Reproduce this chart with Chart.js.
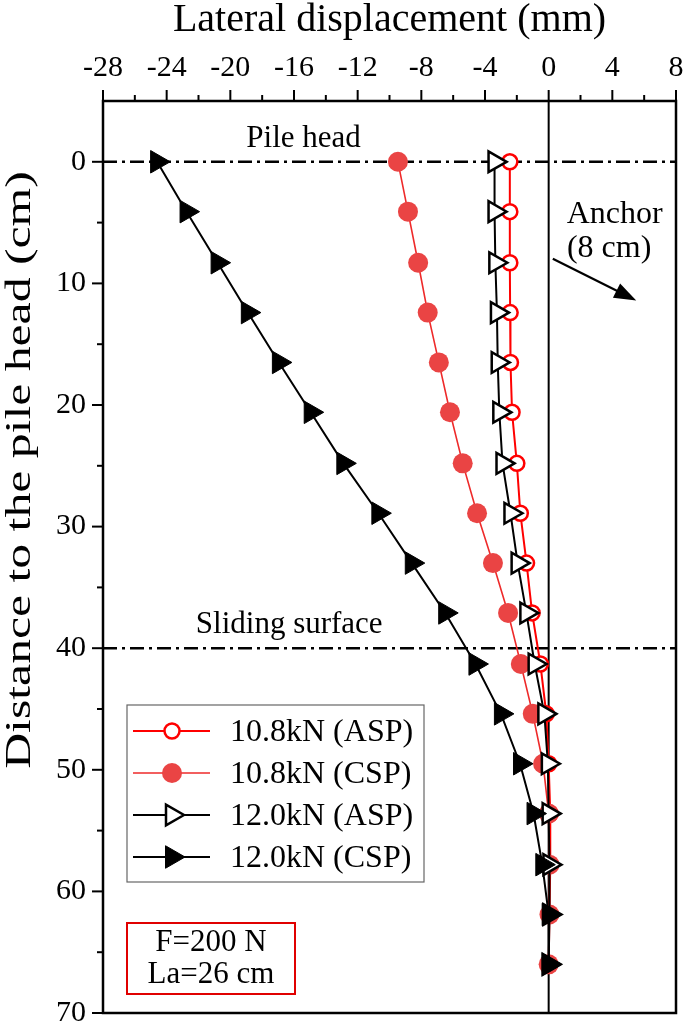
<!DOCTYPE html>
<html><head><meta charset="utf-8">
<script src="https://cdn.jsdelivr.net/npm/chart.js@4.4.1/dist/chart.umd.min.js"></script>
<style>html,body{margin:0;padding:0;background:#fff;overflow:hidden}canvas{display:block}</style>
</head><body>
<canvas id="c" width="685" height="1027"></canvas>
<script>
// ---- data ----
const depthCm = [0, 4.1, 8.3, 12.4, 16.5, 20.6, 24.8, 28.9, 33.0, 37.1, 41.3, 45.4, 49.5, 53.6, 57.8, 61.9, 66.0];
const asp108 = [-2.44, -2.44, -2.44, -2.42, -2.4, -2.3, -2.0, -1.78, -1.39, -1.04, -0.52, -0.15, 0.0, 0.1, 0.1, 0.05, 0.0];
const csp108 = [-9.47, -8.84, -8.2, -7.6, -6.9, -6.2, -5.4, -4.5, -3.5, -2.55, -1.75, -1.0, -0.35, 0.0, 0.05, 0.05, 0.0];
const asp120 = [-3.4, -3.4, -3.35, -3.25, -3.2, -3.1, -2.9, -2.4, -1.95, -1.4, -0.88, -0.27, -0.05, 0.0, 0.05, 0.05, 0.0];
const csp120 = [-24.6, -22.75, -20.8, -18.9, -16.95, -14.95, -12.9, -10.7, -8.6, -6.5, -4.6, -3.0, -1.8, -0.95, -0.4, 0.0, 0.0];
const seriesNames = ['10.8kN (ASP)', '10.8kN (CSP)', '12.0kN (ASP)', '12.0kN (CSP)'];
const xTicks = [-28, -24, -20, -16, -12, -8, -4, 0, 4, 8];
const yTicks = [0, 10, 20, 30, 40, 50, 60, 70];
const refDepths = [0, 40];            // pile head, sliding surface
const xTitle = 'Lateral displacement (mm)';
const yTitle = 'Distance to the pile head (cm)';

const FONT = '"Liberation Serif","Times New Roman",serif';
const pts = arr => arr.map((v, i) => ({x: v, y: depthCm[i]}));

const styles = [
  {label: seriesNames[0], data: pts(asp108), borderColor: '#ff0000', borderWidth: 2, pointStyle: 'circle', pointRadius: 7.5, pointBackgroundColor: '#ffffff', pointBorderColor: '#ff0000', pointBorderWidth: 2.5, pointRotation: 0},
  {label: seriesNames[1], data: pts(csp108), borderColor: '#ee2a2a', borderWidth: 1.6, pointStyle: 'circle', pointRadius: 10, pointBackgroundColor: '#ea4444', pointBorderColor: '#ea4444', pointBorderWidth: 0, pointRotation: 0},
  {label: seriesNames[2], data: pts(asp120), borderColor: '#000000', borderWidth: 2, pointStyle: 'triangle', pointRadius: 12, pointBackgroundColor: '#ffffff', pointBorderColor: '#000000', pointBorderWidth: 2.5, pointRotation: 90},
  {label: seriesNames[3], data: pts(csp120), borderColor: '#000000', borderWidth: 2, pointStyle: 'triangle', pointRadius: 13, pointBackgroundColor: '#000000', pointBorderColor: '#000000', pointBorderWidth: 1, pointRotation: 90}
];
// black series drawn above red ones
const datasets = styles.map((s, i) => Object.assign({showLine: true, fill: false, tension: 0, order: 4 - i, pointHoverRadius: s.pointRadius}, s));

function textAt(ctx, str, x, y, size, align) {
  ctx.font = size + 'px ' + FONT;
  ctx.textAlign = align || 'center';
  ctx.textBaseline = 'middle';
  ctx.fillStyle = '#000';
  ctx.fillText(str, x, y);
}

const deco = {
  id: 'deco',
  beforeDatasetsDraw(chart) {
    const {ctx, chartArea: a, scales: {x, y}} = chart;
    ctx.save();
    ctx.strokeStyle = '#000';
    ctx.lineWidth = 2.5;
    ctx.setLineDash([14, 5, 3, 5]);
    refDepths.forEach(d => {
      const py = y.getPixelForValue(d);
      ctx.beginPath(); ctx.moveTo(a.left, py); ctx.lineTo(a.right, py); ctx.stroke();
    });
    ctx.setLineDash([]);
    ctx.lineWidth = 2;
    const px = x.getPixelForValue(0);
    ctx.beginPath(); ctx.moveTo(px, a.top); ctx.lineTo(px, a.bottom); ctx.stroke();
    ctx.restore();
  },
  afterDraw(chart) {
    const {ctx, chartArea: a, scales: {x, y}} = chart;
    ctx.save();
    // frame
    ctx.strokeStyle = '#000';
    ctx.lineWidth = 2.5;
    ctx.strokeRect(a.left, a.top, a.right - a.left, a.bottom - a.top);
    // ticks
    ctx.lineWidth = 2;
    for (let v = x.min; v <= x.max + 1e-9; v += 2) {
      const px = x.getPixelForValue(v);
      const len = (v % 4 === 0) ? 11 : 6;
      ctx.beginPath(); ctx.moveTo(px, a.top); ctx.lineTo(px, a.top - len); ctx.stroke();
    }
    for (let v = 0; v <= y.max + 1e-9; v += 5) {
      const py = y.getPixelForValue(v);
      const len = (v % 10 === 0) ? 11 : 6;
      ctx.beginPath(); ctx.moveTo(a.left, py); ctx.lineTo(a.left - len, py); ctx.stroke();
    }
    // y title (stretched serif)
    ctx.save();
    ctx.translate(21, a.top + 369);
    ctx.rotate(-Math.PI / 2);
    ctx.scale(1.42, 1);
    textAt(ctx, yTitle, 0, 0, 35);
    ctx.restore();
    // annotations
    textAt(ctx, 'Pile head', x.getPixelForValue(-15.4), y.getPixelForValue(-1.9), 31);
    textAt(ctx, 'Sliding surface', x.getPixelForValue(-16.3), y.getPixelForValue(38.1), 31);
    textAt(ctx, 'Anchor', x.getPixelForValue(4.15), y.getPixelForValue(4.35), 32);
    textAt(ctx, '(8 cm)', x.getPixelForValue(3.8), y.getPixelForValue(7.1), 32);
    // arrow
    const x0 = x.getPixelForValue(0.26), y0 = y.getPixelForValue(7.97);
    const x1 = x.getPixelForValue(5.5), y1 = y.getPixelForValue(11.4);
    const ang = Math.atan2(y1 - y0, x1 - x0);
    ctx.lineWidth = 2.2;
    ctx.beginPath(); ctx.moveTo(x0, y0); ctx.lineTo(x1 - 15 * Math.cos(ang), y1 - 15 * Math.sin(ang)); ctx.stroke();
    ctx.fillStyle = '#000';
    ctx.beginPath();
    ctx.moveTo(x1, y1);
    ctx.lineTo(x1 - 22 * Math.cos(ang) + 8 * Math.sin(ang), y1 - 22 * Math.sin(ang) - 8 * Math.cos(ang));
    ctx.lineTo(x1 - 22 * Math.cos(ang) - 8 * Math.sin(ang), y1 - 22 * Math.sin(ang) + 8 * Math.cos(ang));
    ctx.closePath(); ctx.fill();
    // legend
    const lx = a.left + 24, ly = a.top + 604, lw = 297, lh = 177;
    ctx.lineWidth = 1.2; ctx.strokeStyle = '#666';
    ctx.strokeRect(lx, ly, lw, lh);
    chart.data.datasets.forEach((ds, i) => {
      const rowY = ly + 26 + i * 42;
      ctx.strokeStyle = ds.borderColor; ctx.lineWidth = ds.borderWidth;
      ctx.beginPath(); ctx.moveTo(lx + 6, rowY); ctx.lineTo(lx + 83, rowY); ctx.stroke();
      ctx.fillStyle = ds.pointBackgroundColor; ctx.strokeStyle = ds.pointBorderColor;
      ctx.lineWidth = ds.pointBorderWidth || 1;
      Chart.helpers.drawPoint(ctx, {pointStyle: ds.pointStyle, radius: ds.pointRadius, rotation: ds.pointRotation, borderWidth: ds.pointBorderWidth}, lx + 45, rowY);
      textAt(ctx, ds.label, lx + 103, rowY + 2, 32, 'left');
    });
    // info box
    const bx = a.left + 24, by = a.top + 822, bw = 168, bh = 71;
    ctx.lineWidth = 2; ctx.strokeStyle = '#e00000';
    ctx.strokeRect(bx, by, bw, bh);
    textAt(ctx, 'F=200 N', bx + bw / 2, by + 20, 31);
    textAt(ctx, 'La=26 cm', bx + bw / 2, by + 52, 31);
    ctx.restore();
  }
};

function noPad(s) { s.paddingTop = 0; s.paddingBottom = 0; s.paddingLeft = 0; s.paddingRight = 0; }

new Chart(document.getElementById('c'), {
  type: 'scatter',
  data: {datasets},
  options: {
    responsive: false,
    animation: false,
    devicePixelRatio: 1,
    layout: {autoPadding: false, padding: {left: 0, right: 9, top: 0, bottom: 14}},
    plugins: {legend: {display: false}, tooltip: {enabled: false}},
    scales: {
      x: {
        type: 'linear', position: 'top', min: -28, max: 8,
        afterBuildTicks: s => { s.ticks = xTicks.map(v => ({value: v})); },
        afterFit: s => { s.height = 101; noPad(s); },
        grid: {display: false, drawTicks: false},
        border: {display: false},
        ticks: {color: '#000', padding: 15, font: {family: FONT, size: 30}, maxRotation: 0, autoSkip: false},
        title: {display: true, text: xTitle, color: '#000', font: {family: FONT, size: 40, lineHeight: 1}, padding: {top: 0, bottom: 0}}
      },
      y: {
        type: 'linear', position: 'left', reverse: true, min: -5, max: 70,
        afterBuildTicks: s => { s.ticks = yTicks.map(v => ({value: v})); },
        afterFit: s => { s.width = 103; noPad(s); },
        grid: {display: false, drawTicks: false},
        border: {display: false},
        ticks: {color: '#000', padding: 17, font: {family: FONT, size: 30}, autoSkip: false}
      }
    }
  },
  plugins: [deco]
});
</script>
</body></html>
